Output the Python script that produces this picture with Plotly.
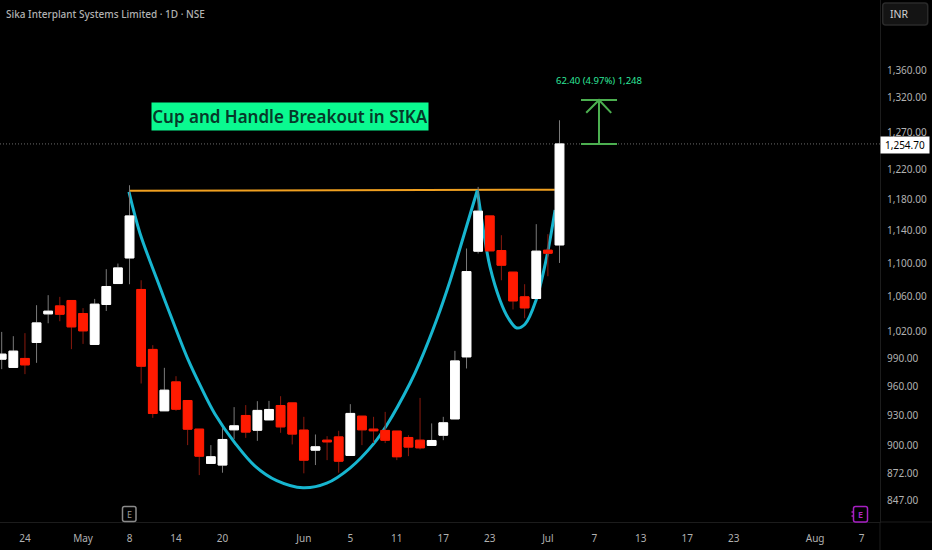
import plotly.graph_objects as go

# Daily candles, index 0 is the left-most bar on screen
opens = [989.5, 980.5, 990.3, 1007.9, 1040.2, 1049.4, 1055.7, 1040.6, 1005.7, 1051, 1075.6, 1106.4,
         1068.6, 1000.2, 934.7, 965, 945.4, 916, 882, 880.4, 915.3, 929.9, 914.9, 925.4,
         940.2, 942.9, 915, 895, 904.9, 908.2, 889.8, 929.2, 916, 914.7, 914, 907.6,
         904.9, 899.7, 909.9, 926.4, 992, 1114.7, 1158.9, 1115.5, 1089.2, 1059.9, 1058, 1115.9, 1122.4]
highs = [1019.7, 1014.9, 1018.3, 1050.2, 1061.9, 1059.9, 1056, 1046.8, 1057.5, 1092.8, 1099.6, 1198.8,
         1079.5, 1004.9, 980.1, 971.1, 945.4, 916, 900, 917, 938.5, 940.6, 944.7, 945,
         949.9, 942.9, 928.5, 910.6, 908.9, 914.3, 941.6, 929.2, 928.5, 933.6, 914, 909.9,
         948.1, 921.8, 928.5, 998.6, 1118, 1196.6, 1158.9, 1134.5, 1089.2, 1074.8, 1148.4, 1135.8, 1287.9]
lows = [978.7, 980.5, 973.3, 985.5, 1029.5, 1031.8, 1000.5, 1006.3, 1005.7, 1043.5, 1075.6, 1074.8,
        963.3, 927.5, 934.7, 934.7, 900, 870.7, 882, 873, 905.9, 907.2, 904.2, 925.4,
        912.3, 900.7, 872.4, 880.4, 885.2, 873, 889.8, 900, 902, 902, 885.2, 889.1,
        895.7, 899.7, 904.9, 926.4, 979.4, 1111.8, 1115.1, 1079.5, 1045.3, 1035.2, 1058, 1084.3, 1100.3]
closes = [995, 998.3, 983.3, 1029.9, 1043.3, 1039.8, 1025.4, 1020.9, 1051.4, 1072.1, 1094.3, 1158.9,
          981.9, 931.9, 956.2, 936.4, 916, 889.1, 888.5, 905.6, 919.3, 913, 935.1, 936.1,
          918.3, 911, 885.2, 898.3, 903.2, 884.2, 932, 915.3, 914.3, 904.9, 888.5, 898,
          897.3, 904.6, 922.4, 987.6, 1089.9, 1165, 1115.1, 1097.6, 1055.2, 1047.1, 1114.7, 1112.2, 1254.7]
bars = list(range(len(opens)))

# Drawings on top of the chart
cup_x = [10.95, 11.9, 13.34, 14.63, 16.06, 17.07, 18.36, 20.08, 21.8, 23.67, 25.93, 27.97, 29.97,
         31.98, 33.13, 35.14, 36.0, 37.43, 38.58, 39.72, 40.93]
cup_y = [1190, 1137, 1081.3, 1035.2, 988.4, 961.5, 931.2, 902, 879.4, 865.4, 858.6, 863, 877.5,
         901, 920, 963.6, 986.8, 1033.5, 1078.7, 1132, 1192.2]
handle_x = [40.93, 41.59, 42.02, 42.88, 43.6, 44.32, 45.03, 45.98, 46.9, 47.62]
handle_y = [1192.2, 1128.2, 1095.5, 1056, 1035.2, 1024.2, 1028.4, 1056, 1107.6, 1166.5]
rim_x = [10.95, 48]
rim_y = [1191.6, 1193]
last_price = 1254.7

target_x = [49.85, 52.95, None, 51.4, 51.4, None, 49.85, 52.95, None, 50.3, 51.4, 52.45]
target_y = [1317, 1317, None, 1317, 1254.7, None, 1254.7, 1254.7, None, 1298.5, 1317, 1298.5]

# Axis labels
price_ticks = [1360, 1320, 1270, 1220, 1180, 1140, 1100, 1060, 1020, 990, 960, 930, 900, 872, 847]
price_text = ["1,360.00", "1,320.00", "1,270.00", "1,220.00", "1,180.00", "1,140.00", "1,100.00", "1,060.00",
              "1,020.00", "990.00", "960.00", "930.00", "900.00", "872.00", "847.00"]
date_ticks = [2, 7, 11, 15, 19, 26, 30, 34, 38, 42, 47, 51, 55, 59, 63, 70, 74]
date_text = ["24", "May", "8", "14", "20", "Jun", "5", "11", "17", "23", "Jul", "7", "13", "17", "23", "Aug", "7"]

W, H = 932, 550
PLOT_W, PLOT_H = 880, 522
FONT = "Noto Sans"
TEXT = "#b2b2b2"
AXIS = "#1c1c1c"
X_RANGE = [-0.146, 75.58]
Y_RANGE = [2.9174, 3.1675]


def px(x):
    return x / PLOT_W


def py(y):
    return 1 - y / PLOT_H


def badge(x0, y0, x1, y1, r, fill, line):
    # rounded box given in screen pixels
    path = (f"M {px(x0 + r)} {py(y0)} L {px(x1 - r)} {py(y0)} Q {px(x1)} {py(y0)} {px(x1)} {py(y0 + r)} "
            f"L {px(x1)} {py(y1 - r)} Q {px(x1)} {py(y1)} {px(x1 - r)} {py(y1)} "
            f"L {px(x0 + r)} {py(y1)} Q {px(x0)} {py(y1)} {px(x0)} {py(y1 - r)} "
            f"L {px(x0)} {py(y0 + r)} Q {px(x0)} {py(y0)} {px(x0 + r)} {py(y0)} Z")
    return dict(type="path", xref="paper", yref="paper", path=path, fillcolor=fill,
                line=dict(color=line, width=1.5), layer="above")


def rule(x0, y0, x1, y1, color=AXIS, width=1):
    return dict(type="line", xref="paper", yref="paper", x0=px(x0), y0=py(y0), x1=px(x1), y1=py(y1),
                line=dict(color=color, width=width), layer="above")


def label(x, y, text, size=10, color=TEXT, anchor="left", weight=None, **kw):
    return dict(x=px(x), y=py(y), xref="paper", yref="paper", text=text, showarrow=False, xanchor=anchor,
                yanchor="middle", font=dict(family=FONT, size=size, color=color, weight=weight), **kw)


fig = go.Figure()

# price line and drawings sit under the candles
fig.add_trace(go.Scatter(x=X_RANGE, y=[last_price, last_price], mode="lines",
                         line=dict(color="#6a6a6a", width=1, dash="1px,2px")))
fig.add_trace(go.Scatter(x=rim_x, y=rim_y, mode="lines", line=dict(color="#f0a020", width=2)))
fig.add_trace(go.Scatter(x=cup_x, y=cup_y, mode="lines", line=dict(color="#17b6d0", width=3, shape="spline")))
fig.add_trace(go.Scatter(x=handle_x, y=handle_y, mode="lines", line=dict(color="#17b6d0", width=3, shape="spline")))
fig.add_trace(go.Scatter(x=target_x, y=target_y, mode="lines", line=dict(color="#4caf50", width=2)))

# wicks first, then the bodies on their own so the outline can match the fill
fig.add_trace(go.Candlestick(x=bars, open=opens, high=highs, low=lows, close=closes, xaxis="x2", yaxis="y2",
                             whiskerwidth=0,
                             increasing=dict(line=dict(color="#7a7a7a", width=1), fillcolor="#ffffff"),
                             decreasing=dict(line=dict(color="#8a1a0e", width=1), fillcolor="#ff1a00")))
body_high = [max(o, c) for o, c in zip(opens, closes)]
body_low = [min(o, c) for o, c in zip(opens, closes)]
fig.add_trace(go.Candlestick(x=bars, open=opens, high=body_high, low=body_low, close=closes, xaxis="x2", yaxis="y2",
                             whiskerwidth=0,
                             increasing=dict(line=dict(color="#ffffff", width=1), fillcolor="#ffffff"),
                             decreasing=dict(line=dict(color="#ff1a00", width=1), fillcolor="#ff1a00")))

fig.update_layout(
    width=W, height=H,
    margin=dict(l=0, r=W - PLOT_W, t=0, b=H - PLOT_H, pad=0),
    paper_bgcolor="#000000", plot_bgcolor="#000000",
    showlegend=False, hovermode=False,
    boxgap=0.25, boxgroupgap=0,
    xaxis=dict(range=X_RANGE, tickvals=date_ticks, ticktext=date_text, showgrid=False, zeroline=False,
               showline=True, linecolor=AXIS, linewidth=1, ticks="outside", ticklen=7,
               tickcolor="rgba(0,0,0,0)", tickfont=dict(family=FONT, size=10, color=TEXT),
               rangeslider=dict(visible=False)),
    yaxis=dict(type="log", range=Y_RANGE, side="right", tickvals=price_ticks, ticktext=price_text, showgrid=False,
               zeroline=False, showline=True, linecolor=AXIS, linewidth=1, ticks="outside", ticklen=4,
               tickcolor="rgba(0,0,0,0)", tickfont=dict(family=FONT, size=10, color=TEXT)),
    xaxis2=dict(range=X_RANGE, overlaying="x", visible=False, rangeslider=dict(visible=False)),
    yaxis2=dict(type="log", range=Y_RANGE, overlaying="y", visible=False),
    shapes=[
        rule(880, 522, 880, 550),
        rule(880, 522, 932, 522),
        badge(882.7, 3, 927.7, 25, 3, "#141414", "#2a2a2a"),
        badge(122.5, 506.5, 136, 521.5, 2, "#000000", "#8a8a8a"),
        badge(853.5, 506.5, 867.5, 522, 2, "#000000", "#a61fc2"),
        rule(851.5, 512, 853.5, 512, "#a61fc2", 1.5),
        rule(851.5, 516, 853.5, 516, "#a61fc2", 1.5),
    ],
    annotations=[
        label(4, 14, "Sika Interplant Systems Limited · 1D · NSE", size=10, weight=500),
        label(289.5, 116.5, "Cup and Handle Breakout in SIKA", size=17, color="#063a2a", anchor="center",
              weight=600, bgcolor="#0afa90", width=274, height=25),
        label(599, 81, "62.40 (4.97%) 1,248", size=9.5, color="#2ee69a", anchor="center"),
        label(888, 14, "INR", size=10.5, color="#d0d0d0"),
        label(880, 145, "1,254.70", size=10, color="#000000", bgcolor="#ffffff", width=46, height=14),
        label(129.2, 514, "E", size=9, color="#9a9a9a", anchor="center"),
        label(860.5, 514, "E", size=9, color="#b026c8", anchor="center", weight=600),
    ],
)

fig.write_html("out.html", config={"displayModeBar": False},
               post_script="document.body.style.margin='0';document.body.style.background='#000';")
